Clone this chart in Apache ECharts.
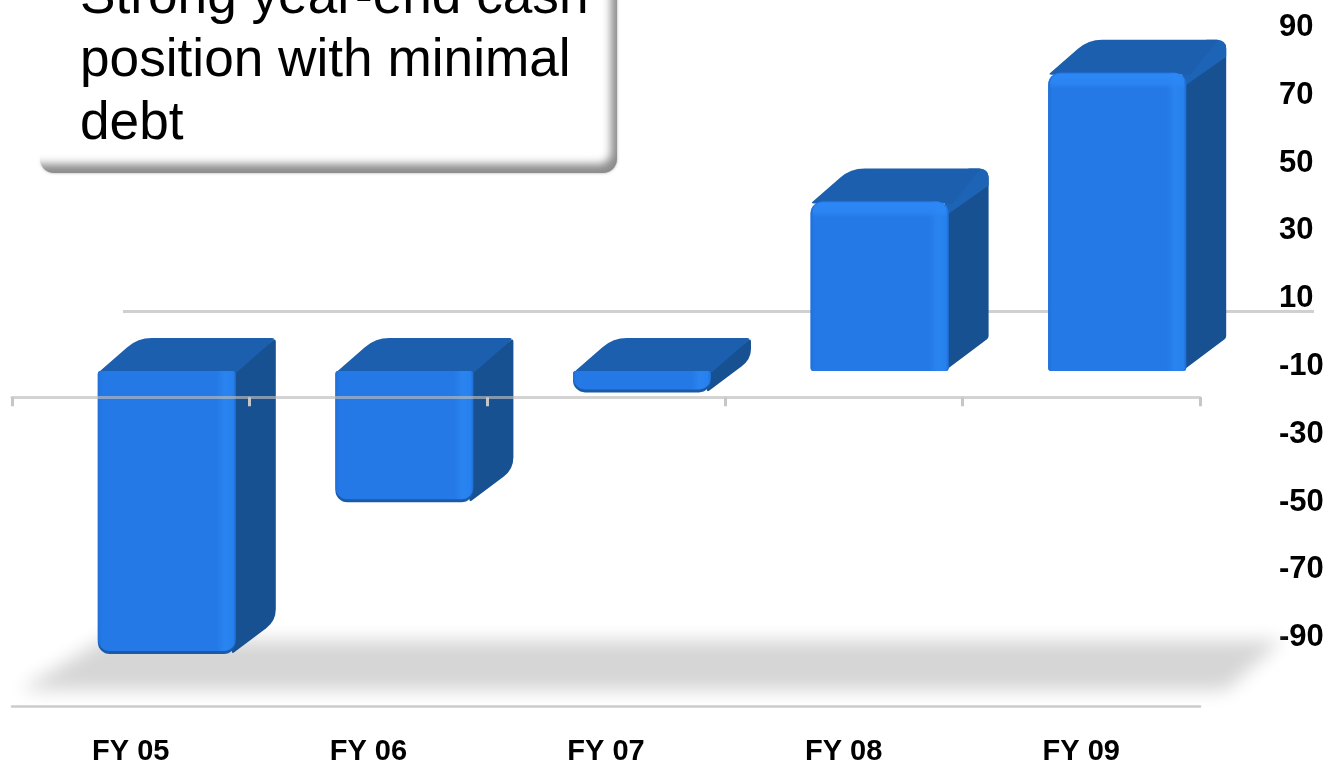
<!DOCTYPE html>
<html>
<head>
<meta charset="utf-8">
<title>Year-end cash position</title>
<style>
  html, body { margin: 0; padding: 0; background: #fff; overflow: hidden; }
  #chart { width: 1328px; height: 763px; }
</style>
<script src="https://cdn.jsdelivr.net/npm/echarts@6/dist/echarts.min.js"></script>
</head>
<body>
<div id="chart"></div>
<script>
// Fiscal years and year-end net cash
const categories = ['FY 05', 'FY 06', 'FY 07', 'FY 08', 'FY 09'];
const cashValues = [-83.5, -38.7, -6.3, 50, 88];
const valueTicks = [-90, -70, -50, -30, -10, 10, 30, 50, 70, 90];
const headline = ['Strong year-end cash', 'position with minimal', 'debt'];

// Extruded-box geometry, in pixels relative to the axis scales
const FRONT_WIDTH = 138;
const FRONT_SHIFT_X = -33;
const FRONT_SHIFT_Y = 41;
const DEPTH_X = 40;
const DEPTH_Y = 33;
const FONT = '"Liberation Sans", Arial, sans-serif';
const SHADOW_ONLY_OFFSET = 3000;

// Builds an SVG path from [x, y, cornerRadius] vertices
function roundedPath(points) {
  const n = points.length;
  let d = '';
  points.forEach(function (p, i) {
    const prev = points[(i + n - 1) % n];
    const next = points[(i + 1) % n];
    const r = p[2] || 0;
    const toward = function (q) {
      const dx = q[0] - p[0], dy = q[1] - p[1];
      const len = Math.hypot(dx, dy) || 1;
      const t = Math.min(r, len / 2);
      return [p[0] + dx / len * t, p[1] + dy / len * t];
    };
    const a = toward(prev), b = toward(next);
    d += (i ? 'L' : 'M') + a[0] + ' ' + a[1] + 'Q' + p[0] + ' ' + p[1] + ' ' + b[0] + ' ' + b[1];
  });
  return d + 'Z';
}

function renderBox(params, api) {
  const index = api.value(0);
  const value = api.value(1);
  const center = api.coord([index, 0]);
  const end = api.coord([index, value]);
  const left = center[0] + FRONT_SHIFT_X;
  const right = left + FRONT_WIDTH;
  const base = center[1] + FRONT_SHIFT_Y;
  const tip = end[1] + FRONT_SHIFT_Y;
  const top = Math.min(base, tip);
  const bottom = Math.max(base, tip);
  const rising = value > 0;
  const rTop = rising ? 12 : 3;
  const rBottom = rising ? 3 : 12;
  const backX = right + DEPTH_X;
  const backY = top - DEPTH_Y;

  const children = [];
  // Side face
  children.push({
    type: 'path',
    shape: { pathData: roundedPath([
      [right - 4, top + 2, 2],
      [backX, backY, rising ? 10 : 4],
      [backX, bottom - DEPTH_Y, rising ? 2 : 12],
      [right - 4, bottom, 3]
    ]) },
    style: { fill: '#175192' }
  });
  if (rising) {
    // Light bevel running along the upper right edge
    children.push({
      type: 'path',
      shape: { pathData: roundedPath([
        [right - 4, top + 15, 0],
        [right - 4, top, 0],
        [backX - 20, backY, 0],
        [backX, backY, 14],
        [backX, backY + 17, 0]
      ]) },
      style: { fill: '#1d64b7' }
    });
  }
  // Top face
  children.push({
    type: 'path',
    shape: { pathData: roundedPath([
      [left, top + 2, 3],
      [left + DEPTH_X, backY, 14],
      [rising ? backX - 8 : backX, backY, rising ? 0 : 4],
      [rising ? right + 4 : right, top + 2, 2]
    ]) },
    style: { fill: '#1b5fae' }
  });
  // Rim below the front face gives the box a rounded lower lip
  children.push({
    type: 'rect',
    shape: { x: left, y: top, width: FRONT_WIDTH, height: bottom - top, r: [rTop, rTop, rBottom, rBottom] },
    style: { fill: rising ? '#2276e0' : '#1a5ba8' }
  });
  // Front face
  children.push({
    type: 'rect',
    shape: { x: left, y: top, width: FRONT_WIDTH, height: bottom - top - (rising ? 0 : 3), r: [rTop, rTop, rBottom, rBottom] },
    style: {
      fill: new echarts.graphic.LinearGradient(0, 0, 1, 0, [
        { offset: 0, color: '#2170d8' },
        { offset: 0.03, color: '#2479e6' },
        { offset: 0.86, color: '#2479e6' },
        { offset: 0.92, color: '#2a84f0' },
        { offset: 0.98, color: '#2681ee' },
        { offset: 1, color: '#1f6cd0' }
      ])
    }
  });
  if (rising) {
    // Bright band along the top of boxes above the baseline
    children.push({
      type: 'rect',
      shape: { x: left + 2, y: top + 1, width: FRONT_WIDTH - 4, height: 15, r: [10, 10, 0, 0] },
      style: {
        fill: new echarts.graphic.LinearGradient(0, 0, 0, 1, [
          { offset: 0, color: 'rgba(44,136,246,1)' },
          { offset: 0.6, color: 'rgba(44,136,246,0.8)' },
          { offset: 1, color: 'rgba(44,136,246,0)' }
        ])
      }
    });
  }
  return { type: 'group', children: children };
}

function renderBackdrop(params, api) {
  const band = api.size([1, 0])[0];
  const floorFront = api.coord([0, -111]);
  const wallLeft = api.coord([0, 0]);
  const x0 = floorFront[0] - band / 2;
  const x1 = x0 + band * categories.length;
  const y = floorFront[1];
  const wallY = wallLeft[1] - 18.5;
  return {
    type: 'group',
    children: [
      {
        // Soft floor: only the blurred shadow of the polygon lands on the canvas
        type: 'polygon',
        x: -SHADOW_ONLY_OFFSET,
        shape: { points: [[x0 + 8, y - 16], [x0 + 90, y - 66], [x1 + 82, y - 66], [x1 + 26, y - 16]] },
        style: {
          fill: '#d6d6d6',
          shadowColor: '#d6d6d6',
          shadowBlur: 18,
          shadowOffsetX: SHADOW_ONLY_OFFSET
        }
      },
      {
        type: 'line',
        shape: { x1: x0 + 111, y1: wallY, x2: x1 + 114, y2: wallY },
        style: { stroke: '#d0d0d0', lineWidth: 3 }
      }
    ]
  };
}

const chart = echarts.init(document.getElementById('chart'), null, { renderer: 'canvas' });

chart.setOption({
  animation: false,
  backgroundColor: '#ffffff',
  grid: { left: 12, right: 128, top: 1.3, height: 704.9, containLabel: false, outerBoundsMode: 'none' },
  xAxis: [
    {
      type: 'category',
      data: categories,
      position: 'bottom',
      axisLine: { onZero: false, lineStyle: { color: '#cbcbcb', width: 2.5 } },
      axisTick: { show: false },
      axisLabel: {
        margin: 31,
        fontFamily: FONT,
        fontWeight: 'bold',
        fontSize: 29,
        color: '#000'
      }
    },
    {
      type: 'category',
      data: categories,
      position: 'bottom',
      offset: -309,
      z: 6,
      axisLine: { onZero: false, lineStyle: { color: 'rgba(187,187,187,0.65)', width: 3 } },
      axisTick: { show: true, length: 9, lineStyle: { color: '#c6c6c6', width: 3 } },
      axisLabel: { show: false }
    }
  ],
  yAxis: {
    type: 'value',
    position: 'right',
    min: -111,
    max: 97,
    axisLine: { show: false },
    axisTick: { show: false },
    splitLine: { show: false },
    axisLabel: {
      customValues: valueTicks,
      margin: 79,
      align: 'left',
      verticalAlign: 'top',
      lineHeight: 5,
      fontFamily: FONT,
      fontWeight: 'bold',
      fontSize: 31,
      color: '#000'
    }
  },
  series: [
    {
      type: 'custom',
      name: 'backdrop',
      xAxisIndex: 1,
      z: 1,
      silent: true,
      clip: false,
      renderItem: renderBackdrop,
      data: [[0, 0]],
      encode: { x: 0, y: 1 }
    },
    {
      type: 'custom',
      name: 'Year-end cash',
      xAxisIndex: 0,
      z: 3,
      clip: false,
      renderItem: renderBox,
      data: cashValues.map(function (v, i) { return [i, v]; }),
      encode: { x: 0, y: 1 }
    }
  ],
  graphic: [
    {
      type: 'rect',
      z: 10,
      shape: { x: 40, y: -30, width: 577, height: 203, r: 14 },
      style: { fill: '#8c8c8c', shadowColor: '#aaaaaa', shadowBlur: 3 }
    },
    {
      // The white panel is the blurred shadow of an off-canvas rectangle, for a soft bevel
      type: 'rect',
      z: 11,
      x: -SHADOW_ONLY_OFFSET,
      shape: { x: 15, y: -40, width: 596, height: 204, r: 12 },
      style: { fill: '#ffffff', shadowColor: '#ffffff', shadowBlur: 9, shadowOffsetX: SHADOW_ONLY_OFFSET }
    },
    {
      type: 'text',
      z: 12,
      x: 80,
      y: -33.5,
      style: {
        text: headline.join('\n'),
        font: '53.2px ' + FONT,
        fill: '#000',
        lineHeight: 63,
        verticalAlign: 'top'
      }
    }
  ]
});
</script>
</body>
</html>
